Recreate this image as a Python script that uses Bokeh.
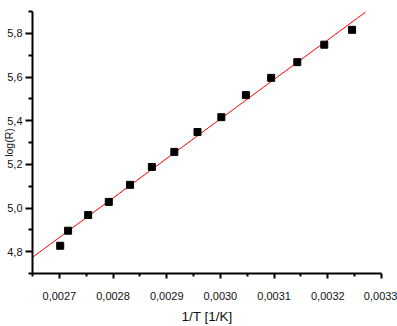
import numpy as np
from bokeh.plotting import figure
from bokeh.models import Range1d, FixedTicker, ColumnDataSource
from bokeh.embed import file_html
from bokeh.resources import INLINE

# ---- data ----
inv_T = [0.0027016, 0.0027163, 0.0027537, 0.0027921, 0.0028317, 0.0028723,
         0.0029142, 0.0029573, 0.0030017, 0.0030474, 0.0030945, 0.0031432,
         0.0031934, 0.0032452]
log_R = [4.827, 4.896, 4.968, 5.028, 5.106, 5.188,
         5.257, 5.348, 5.416, 5.517, 5.596, 5.668,
         5.748, 5.816]

fit_x_span = [0.00265, 0.00327]

x_ticks = [0.0027, 0.0028, 0.0029, 0.0030, 0.0031, 0.0032, 0.0033]
x_tick_labels = ["0,0027", "0,0028", "0,0029", "0,0030", "0,0031", "0,0032", "0,0033"]
x_minor = [0.00265, 0.00275, 0.00285, 0.00295, 0.00305, 0.00315, 0.00325]

y_ticks = [4.8, 5.0, 5.2, 5.4, 5.6, 5.8]
y_tick_labels = ["4,8", "5,0", "5,2", "5,4", "5,6", "5,8"]
y_minor = [4.7, 4.9, 5.1, 5.3, 5.5, 5.7, 5.9]

# linear fit of the points
slope, intercept = np.polyfit(inv_T, log_R, 1)
fit_y = [slope * xv + intercept for xv in fit_x_span]

FONT = "Liberation Sans"
TXT = "#111111"

p = figure(width=397, height=326, output_backend="svg", toolbar_location=None,
           x_range=Range1d(0.00265, 0.0033), y_range=Range1d(4.7, 5.9),
           min_border_left=29, min_border_right=16, min_border_top=11,
           min_border_bottom=53)
p.outline_line_color = None
p.xgrid.visible = False
p.ygrid.visible = False
p.background_fill_color = "white"
p.border_fill_color = "white"

p.line(fit_x_span, fit_y, line_color="#ff0000", line_width=1)
src = ColumnDataSource(dict(x=inv_T, y=log_R))
p.scatter("x", "y", source=src, marker="square", size=7,
          fill_color="black", line_color="black")

# x axis
xa = p.xaxis[0]
xa.ticker = FixedTicker(ticks=x_ticks, minor_ticks=x_minor)
xa.major_label_overrides = {t: l for t, l in zip(x_ticks, x_tick_labels)}
xa.axis_label = "1/T [1/K]"
xa.axis_line_width = 2
xa.major_tick_line_width = 2
xa.minor_tick_line_width = 2
xa.major_tick_in = 0
xa.major_tick_out = 5
xa.minor_tick_in = 0
xa.minor_tick_out = 3
xa.major_label_standoff = 13
xa.axis_label_standoff = 6
xa.major_label_text_font = FONT
xa.major_label_text_font_size = "11px"
xa.major_label_text_color = TXT
xa.axis_label_text_font = FONT
xa.axis_label_text_font_size = "13.5px"
xa.axis_label_text_font_style = "normal"
xa.axis_label_text_color = TXT

# y axis
ya = p.yaxis[0]
ya.ticker = FixedTicker(ticks=y_ticks, minor_ticks=y_minor)
ya.major_label_overrides = {t: l for t, l in zip(y_ticks, y_tick_labels)}
ya.axis_label = "log(R)"
ya.axis_line_width = 2
ya.major_tick_line_width = 2
ya.minor_tick_line_width = 2
ya.major_tick_in = 0
ya.major_tick_out = 7
ya.minor_tick_in = 0
ya.minor_tick_out = 4
ya.major_label_standoff = 3
ya.major_label_text_baseline = "top"
ya.axis_label_standoff = -11
ya.major_label_text_font = FONT
ya.major_label_text_font_size = "11px"
ya.major_label_text_color = TXT
ya.axis_label_text_font = FONT
ya.axis_label_text_font_size = "10.5px"
ya.axis_label_text_font_style = "normal"
ya.axis_label_text_color = TXT

open("out.html", "w").write(file_html(p, INLINE))
